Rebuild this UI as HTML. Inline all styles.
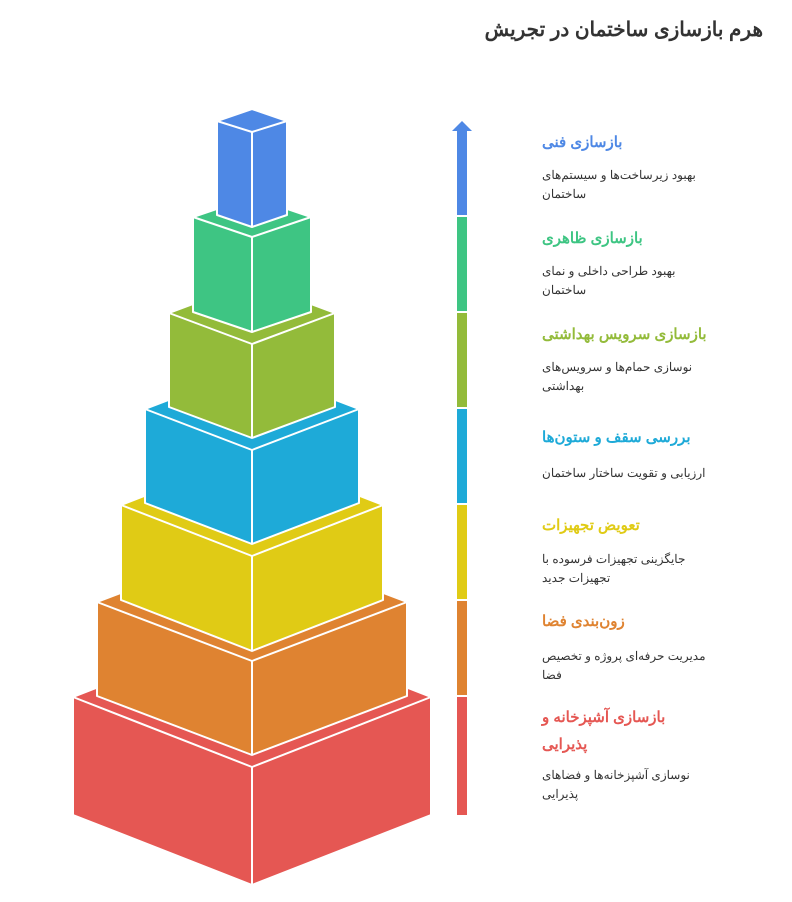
<!DOCTYPE html>
<html><head><meta charset="utf-8">
<style>
body{margin:0;width:792px;height:902px;background:#fff;position:relative;overflow:hidden;font-family:"Liberation Sans","Noto Sans CJK SC",sans-serif}
.t{position:absolute;direction:rtl;text-align:left;font-weight:bold;font-size:15px;line-height:27px;white-space:nowrap}
.d{position:absolute;direction:rtl;text-align:left;font-size:12px;line-height:19px;color:#333;width:165px;left:542px}
</style></head><body>
<svg width="792" height="902" style="position:absolute;left:0;top:0">
<g stroke="#fff" stroke-width="2" stroke-linejoin="round">
<g fill="#E55753"><polygon points="252,627 431,697 431,815 252,885 73,815 73,697"/><polyline fill="none" points="73,697 252,767 431,697"/><line x1="252" y1="767" x2="252" y2="885"/></g>
<g fill="#DF8331"><polygon points="252,543 407,602 407,696 252,755 97,696 97,602"/><polyline fill="none" points="97,602 252,661 407,602"/><line x1="252" y1="661" x2="252" y2="755"/></g>
<g fill="#E0CB15"><polygon points="252,454 383,505 383,600 252,651 121,600 121,505"/><polyline fill="none" points="121,505 252,556 383,505"/><line x1="252" y1="556" x2="252" y2="651"/></g>
<g fill="#1EAAD8"><polygon points="252,368 359,409 359,503 252,544 145,503 145,409"/><polyline fill="none" points="145,409 252,450 359,409"/><line x1="252" y1="450" x2="252" y2="544"/></g>
<g fill="#93BB3A"><polygon points="252,282 335,313 335,407 252,438 169,407 169,313"/><polyline fill="none" points="169,313 252,344 335,313"/><line x1="252" y1="344" x2="252" y2="438"/></g>
<g fill="#3EC583"><polygon points="252,197 311,217 311,312 252,332 193,312 193,217"/><polyline fill="none" points="193,217 252,237 311,217"/><line x1="252" y1="237" x2="252" y2="332"/></g>
<g fill="#4E88E5"><polygon points="252,109 287,121 287,215 252,227 217,215 217,121"/><polyline fill="none" points="217,121 252,132 287,121"/><line x1="252" y1="132" x2="252" y2="227"/></g>
</g>
<polygon points="462,121 472,131 452,131" fill="#4E88E5"/>
<rect x="457" y="130" width="10" height="85" fill="#4E88E5"/>
<rect x="457" y="217" width="10" height="94" fill="#3EC583"/>
<rect x="457" y="313" width="10" height="94" fill="#93BB3A"/>
<rect x="457" y="409" width="10" height="94" fill="#1EAAD8"/>
<rect x="457" y="505" width="10" height="94" fill="#E0CB15"/>
<rect x="457" y="601" width="10" height="94" fill="#DF8331"/>
<rect x="457" y="697" width="10" height="118" fill="#E55753"/>
</svg>
<div class="t" style="left:487px;top:17px;font-size:20px;color:#333;width:276px;text-align:right">هرم بازسازی ساختمان در تجریش</div>
<div class="t" style="left:542px;top:129px;color:#4E88E5">بازسازی فنی</div>
<div class="d" style="top:166px">بهبود زیرساخت‌ها و سیستم‌های ساختمان</div>
<div class="t" style="left:542px;top:225px;color:#3EC583">بازسازی ظاهری</div>
<div class="d" style="top:262px">بهبود طراحی داخلی و نمای ساختمان</div>
<div class="t" style="left:542px;top:321px;color:#93BB3A">بازسازی سرویس بهداشتی</div>
<div class="d" style="top:358px">نوسازی حمام‌ها و سرویس‌های بهداشتی</div>
<div class="t" style="left:542px;top:424px;color:#1EAAD8">بررسی سقف و ستون‌ها</div>
<div class="d" style="top:464px">ارزیابی و تقویت ساختار ساختمان</div>
<div class="t" style="left:542px;top:512px;color:#E0CB15">تعویض تجهیزات</div>
<div class="d" style="top:550px">جایگزینی تجهیزات فرسوده با تجهیزات جدید</div>
<div class="t" style="left:542px;top:608px;color:#DF8331">زون‌بندی فضا</div>
<div class="d" style="top:647px">مدیریت حرفه‌ای پروژه و تخصیص فضا</div>
<div class="t" style="left:542px;top:704px;color:#E55753;white-space:normal;width:160px">بازسازی آشپزخانه و پذیرایی</div>
<div class="d" style="top:766px">نوسازی آشپزخانه‌ها و فضاهای پذیرایی</div>
</body></html>
